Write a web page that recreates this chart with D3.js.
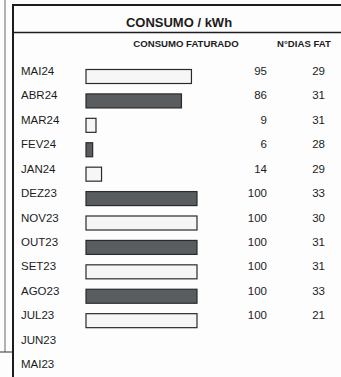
<!DOCTYPE html>
<html>
<head>
<meta charset="utf-8">
<script src="https://cdn.jsdelivr.net/npm/d3@7"></script>
<style>
  body { margin: 0; background: #fff; }
  svg { display: block; font-family: "Liberation Sans", Arial, sans-serif; }
</style>
</head>
<body>
<svg id="chart" width="341" height="377"></svg>
<script>
var meses = ["MAI24", "ABR24", "MAR24", "FEV24", "JAN24", "DEZ23", "NOV23",
             "OUT23", "SET23", "AGO23", "JUL23", "JUN23", "MAI23"];
var consumo = [95, 86, 9, 6, 14, 100, 100, 100, 100, 100, 100, null, null];
var dias = [29, 31, 31, 28, 29, 33, 30, 31, 31, 33, 21, null, null];

var svg = d3.select("#chart"),
    width = +svg.attr("width"),
    height = +svg.attr("height");

var ink = "#1c1c1c";

svg.append("rect").attr("width", width).attr("height", height).attr("fill", "#fdfdfd");

// frame lines
svg.append("line").attr("x1", 5).attr("x2", 5).attr("y1", 0).attr("y2", 352)
    .attr("stroke", "#666").attr("stroke-width", 1);
svg.append("line").attr("x1", 0).attr("x2", 13).attr("y1", 352).attr("y2", 352)
    .attr("stroke", "#333").attr("stroke-width", 1);
svg.append("line").attr("x1", 13).attr("x2", 13).attr("y1", 4).attr("y2", height)
    .attr("stroke", ink).attr("stroke-width", 2);
svg.append("line").attr("x1", 12).attr("x2", width).attr("y1", 5).attr("y2", 5)
    .attr("stroke", ink).attr("stroke-width", 2);
svg.append("line").attr("x1", 13).attr("x2", width).attr("y1", 32.5).attr("y2", 32.5)
    .attr("stroke", ink).attr("stroke-width", 1.5);

svg.append("text")
    .attr("x", 179).attr("y", 27)
    .attr("text-anchor", "middle")
    .attr("font-size", 13).attr("font-weight", "bold")
    .attr("fill", ink)
    .text("CONSUMO / kWh");

svg.append("text")
    .attr("x", 186).attr("y", 47)
    .attr("text-anchor", "middle")
    .attr("font-size", 9.6).attr("font-weight", "bold")
    .attr("fill", ink)
    .text("CONSUMO FATURADO");

svg.append("text")
    .attr("x", 304).attr("y", 47)
    .attr("text-anchor", "middle")
    .attr("font-size", 9.6).attr("font-weight", "bold")
    .attr("fill", ink)
    .text("N°DIAS FAT");

var y = d3.scalePoint().domain(meses).range([71, 364]);
var x = d3.scaleLinear().domain([0, 100]).range([86, 197]);

var rows = meses.map(function(m, i) {
    return { mes: m, valor: consumo[i], dias: dias[i], i: i };
});

var row = svg.append("g").selectAll("g")
    .data(rows)
    .enter().append("g");

row.append("text")
    .attr("x", 21)
    .attr("y", function(d) { return y(d.mes) + 4; })
    .attr("font-size", 11.5)
    .attr("fill", ink)
    .text(function(d) { return d.mes; });

row.filter(function(d) { return d.valor != null; })
    .append("rect")
    .attr("x", x(0))
    .attr("y", function(d) { return y(d.mes) - 1.5; })
    .attr("width", function(d) { return x(d.valor) - x(0); })
    .attr("height", 14)
    .attr("fill", function(d) { return d.i % 2 ? "#595d5f" : "#f6f6f6"; })
    .attr("stroke", "#2a2a2a")
    .attr("stroke-width", 1.2);

row.filter(function(d) { return d.valor != null; })
    .append("text")
    .attr("x", 267)
    .attr("y", function(d) { return y(d.mes) + 4; })
    .attr("text-anchor", "end")
    .attr("font-size", 11.5)
    .attr("fill", ink)
    .text(function(d) { return d.valor; });

row.filter(function(d) { return d.dias != null; })
    .append("text")
    .attr("x", 325)
    .attr("y", function(d) { return y(d.mes) + 4; })
    .attr("text-anchor", "end")
    .attr("font-size", 11.5)
    .attr("fill", ink)
    .text(function(d) { return d.dias; });
</script>
</body>
</html>
